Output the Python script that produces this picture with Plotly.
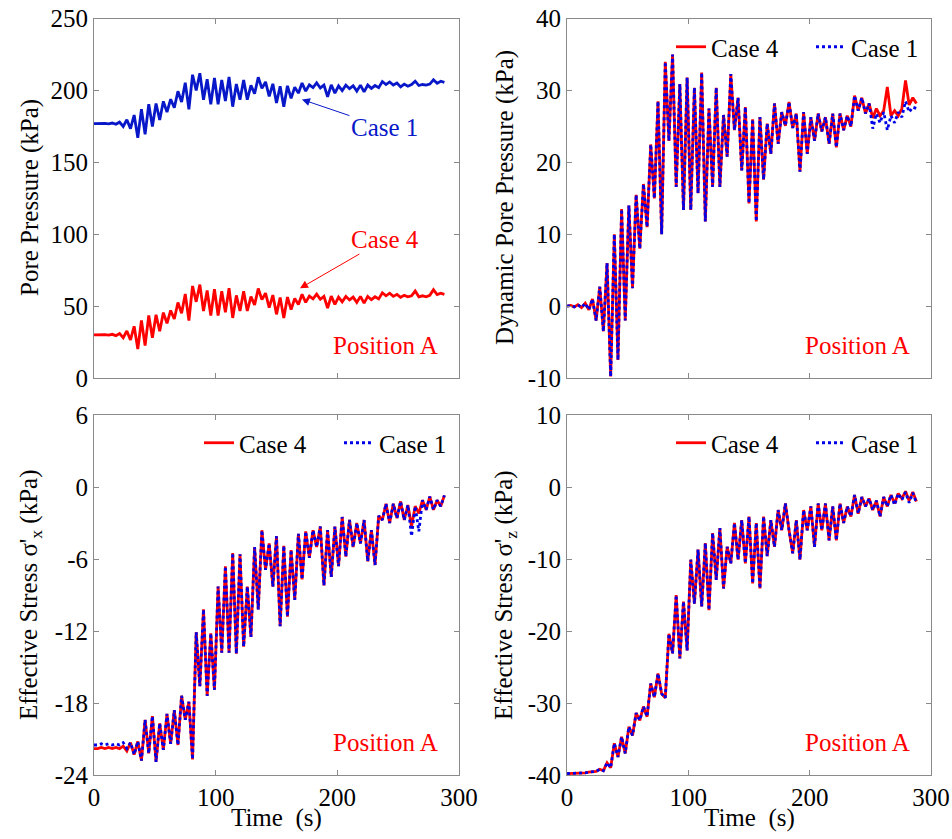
import plotly.graph_objects as go

# ---------------- data ----------------
time_s = [0, 3, 6, 9, 12, 15, 18, 21, 24, 27,
          30, 33, 36, 39, 42, 45, 48, 51, 54, 57,
          60, 63, 66, 69, 72, 75, 78, 81, 84, 87,
          90, 93, 96, 99, 102, 105, 108, 111, 114, 117,
          120, 123, 126, 129, 132, 135, 138, 141, 144, 147,
          150, 153, 156, 159, 162, 165, 168, 171, 174, 177,
          180, 183, 186, 189, 192, 195, 198, 201, 204, 207,
          210, 213, 216, 219, 222, 225, 228, 231, 234, 237,
          240, 243, 246, 249, 252, 255, 258, 261, 264, 267,
          270, 273, 276, 279, 282, 285, 288]

# Pore pressure (kPa), Position A
pore_case1 = [177.0, 177.1, 176.9, 177.2, 176.8, 177.4, 176.5, 178.0, 175.0, 179.7,
              173.5, 183.0, 167.2, 187.0, 169.5, 190.5, 175.0, 191.0, 179.5, 192.5,
              185.0, 194.0, 188.0, 199.5, 192.0, 205.5, 187.0, 211.0, 200.0, 212.0,
              193.6, 207.9, 190.4, 208.8, 190.4, 207.4, 192.7, 209.5, 188.8, 204.5,
              193.6, 207.4, 193.6, 203.6, 197.8, 209.3, 201.5, 206.0, 195.9, 204.7,
              191.3, 203.0, 188.8, 203.3, 194.6, 202.4, 198.2, 205.2, 199.6, 204.0,
              202.1, 205.4, 201.8, 203.8, 195.7, 204.0, 198.2, 203.3, 200.0, 203.8,
              201.3, 203.3, 199.6, 203.8, 199.1, 203.8, 201.5, 203.5, 202.0, 206.3,
              204.2, 206.0, 203.8, 205.2, 202.5, 204.5, 203.0, 204.2, 206.5, 203.5,
              204.2, 203.8, 204.5, 207.5, 205.0, 206.5, 205.7]
pore_case4 = [30.0, 30.1, 29.9, 30.2, 29.8, 30.4, 29.5, 31.0, 28.0, 32.7,
              26.5, 36.0, 20.2, 40.0, 22.5, 43.5, 28.0, 44.0, 32.5, 45.5,
              38.0, 47.0, 41.0, 52.5, 45.0, 58.5, 40.0, 64.0, 53.0, 65.0,
              46.6, 60.9, 43.4, 61.8, 43.4, 60.4, 45.7, 62.5, 41.8, 57.5,
              46.6, 60.4, 46.6, 56.6, 50.8, 62.3, 54.5, 59.0, 48.9, 57.7,
              44.3, 56.0, 41.8, 56.3, 47.6, 55.4, 51.2, 58.2, 52.6, 57.0,
              55.1, 58.4, 54.8, 56.8, 48.7, 57.0, 51.2, 56.3, 53.0, 56.8,
              54.3, 56.3, 52.6, 56.8, 52.1, 56.8, 54.5, 56.5, 55.0, 59.3,
              57.2, 59.0, 56.8, 58.2, 56.2, 57.5, 56.5, 57.2, 60.5, 56.5,
              57.2, 56.5, 57.5, 61.4, 58.0, 59.0, 58.2]

# Dynamic pore pressure (kPa)
dyn_case4 = [0.0, 0.1, -0.1, 0.2, -0.2, 0.4, -0.5, 1.0, -2.0, 2.7,
             -3.5, 6.0, -9.8, 10.0, -7.5, 13.5, -2.0, 14.0, 2.5, 15.5,
             8.0, 17.0, 11.0, 22.5, 15.0, 28.5, 10.0, 34.0, 23.0, 35.0,
             16.6, 30.9, 13.4, 31.8, 13.4, 30.4, 15.7, 32.5, 11.8, 27.5,
             16.6, 30.4, 16.6, 26.6, 20.8, 32.3, 24.5, 29.0, 18.9, 27.7,
             14.3, 26.0, 11.8, 26.3, 17.6, 25.4, 21.2, 28.2, 22.6, 27.0,
             25.1, 28.4, 24.8, 26.8, 18.7, 27.0, 21.2, 26.3, 23.0, 26.8,
             24.3, 26.3, 22.6, 26.8, 22.1, 26.8, 24.5, 26.5, 25.0, 29.3,
             27.2, 29.0, 26.8, 28.2, 26.2, 27.5, 26.5, 27.2, 30.5, 26.5,
             27.2, 26.5, 27.5, 31.4, 28.0, 29.0, 28.2]
dyn_case1 = [0.0, 0.1, -0.1, 0.2, -0.2, 0.4, -0.5, 1.0, -2.0, 2.7,
             -3.5, 6.0, -9.8, 10.0, -7.5, 13.5, -2.0, 14.0, 2.5, 15.5,
             8.0, 17.0, 11.0, 22.5, 15.0, 28.5, 10.0, 34.0, 23.0, 35.0,
             16.6, 30.9, 13.4, 31.8, 13.4, 30.4, 15.7, 32.5, 11.8, 27.5,
             16.6, 30.4, 16.6, 26.6, 20.8, 32.3, 24.5, 29.0, 18.9, 27.7,
             14.3, 26.0, 11.8, 26.3, 17.6, 25.4, 21.2, 28.2, 22.6, 27.0,
             25.1, 28.4, 24.8, 26.8, 18.7, 27.0, 21.2, 26.3, 23.0, 26.8,
             24.3, 26.3, 22.6, 26.8, 22.1, 26.8, 24.5, 26.5, 25.0, 29.3,
             27.2, 29.0, 26.8, 28.2, 24.7, 26.8, 25.5, 27.0, 24.5, 26.5,
             25.5, 27.0, 26.3, 28.5, 27.0, 27.7, 27.5]

# Effective stress sigma'_x (kPa)
sx_case4 = [-21.8, -21.8, -21.7, -21.8, -21.7, -21.8, -21.7, -21.8, -21.6, -22.0,
            -21.3, -22.3, -21.2, -22.8, -19.4, -22.2, -19.1, -22.9, -19.7, -21.9,
            -18.9, -21.4, -18.6, -21.5, -17.4, -19.4, -17.9, -22.7, -12.1, -16.6,
            -10.2, -17.4, -12.2, -16.9, -8.3, -13.8, -6.6, -13.8, -5.5, -13.9,
            -5.6, -13.3, -8.3, -12.5, -5.0, -10.2, -3.6, -6.9, -4.7, -8.3,
            -4.1, -11.6, -4.9, -10.8, -5.25, -9.4, -3.9, -7.7, -3.7, -5.9,
            -3.6, -5.0, -3.3, -8.2, -3.6, -7.5, -3.3, -6.6, -2.5, -5.8,
            -2.75, -5.0, -3.0, -4.7, -2.75, -6.2, -3.6, -6.5, -2.4, -2.75,
            -1.4, -3.0, -1.4, -2.6, -1.2, -2.75, -1.5, -3.3, -1.6, -2.2,
            -1.1, -1.9, -0.8, -1.9, -1.1, -1.6, -0.7]
sx_case1 = [-21.5, -21.5, -21.4, -21.5, -21.4, -21.5, -21.4, -21.5, -21.3, -21.8,
            -21.3, -22.3, -21.2, -22.8, -19.4, -22.2, -19.1, -22.9, -19.7, -21.9,
            -18.9, -21.4, -18.6, -21.5, -17.4, -19.4, -17.9, -22.7, -12.1, -16.6,
            -10.2, -17.4, -12.2, -16.9, -8.3, -13.8, -6.6, -13.8, -5.5, -13.9,
            -5.6, -13.3, -8.3, -12.5, -5.0, -10.2, -3.6, -6.9, -4.7, -8.3,
            -4.1, -11.6, -4.9, -10.8, -5.25, -9.4, -3.9, -7.7, -3.7, -5.9,
            -3.6, -5.0, -3.3, -8.2, -3.6, -7.5, -3.3, -6.6, -2.5, -5.8,
            -2.75, -5.0, -3.0, -4.7, -2.75, -6.2, -3.6, -6.5, -2.4, -2.75,
            -1.4, -3.0, -1.4, -2.6, -1.2, -2.75, -1.5, -4.1, -1.6, -3.7,
            -1.1, -1.9, -0.8, -1.9, -1.1, -1.6, -0.7]

# Effective stress sigma'_z (kPa)
sz_case4 = [-39.8, -39.8, -39.7, -39.8, -39.7, -39.7, -39.6, -39.6, -39.5, -39.2,
            -39.4, -38.3, -39.0, -35.6, -37.5, -34.7, -37.0, -33.3, -34.5, -31.4,
            -32.4, -30.5, -31.9, -27.3, -29.2, -25.9, -28.7, -29.3, -20.4, -23.1,
            -15.0, -23.8, -15.9, -22.7, -10.1, -16.2, -8.7, -16.6, -7.8, -17.1,
            -6.4, -12.9, -5.7, -14.1, -8.3, -10.6, -5.0, -10.1, -4.6, -10.6,
            -4.1, -13.4, -5.0, -14.1, -4.1, -9.6, -4.6, -8.3, -3.2, -6.0,
            -2.3, -6.0, -9.2, -4.6, -10.1, -3.2, -6.0, -2.7, -8.3, -2.3,
            -6.0, -2.3, -7.4, -2.7, -7.4, -2.3, -5.0, -2.7, -4.1, -1.1,
            -3.7, -1.4, -2.7, -1.6, -3.2, -1.9, -4.1, -1.4, -2.7, -1.1,
            -2.3, -0.9, -1.6, -0.6, -1.9, -0.7, -2.0]
sz_case1 = [-39.8, -39.8, -39.7, -39.8, -39.7, -39.7, -39.6, -39.6, -39.5, -39.2,
            -39.4, -38.3, -39.0, -35.6, -37.5, -34.7, -37.0, -33.3, -34.5, -31.4,
            -32.4, -30.5, -31.9, -27.3, -29.2, -25.9, -28.7, -29.3, -20.4, -23.1,
            -15.0, -23.8, -15.9, -22.7, -10.1, -16.2, -8.7, -16.6, -7.8, -17.1,
            -6.4, -12.9, -5.7, -14.1, -8.3, -10.6, -5.0, -10.1, -4.6, -10.6,
            -4.1, -13.4, -5.0, -14.1, -4.1, -9.6, -4.6, -8.3, -3.2, -6.0,
            -2.3, -6.0, -9.2, -4.6, -10.1, -3.2, -6.0, -2.7, -8.3, -2.3,
            -6.0, -2.3, -7.4, -2.7, -7.4, -2.3, -5.0, -2.7, -4.1, -1.1,
            -3.7, -1.4, -2.7, -1.6, -3.2, -1.9, -4.1, -1.4, -2.7, -1.1,
            -2.5, -0.9, -1.8, -0.7, -2.2, -0.8, -2.2]

x_ticks = [0, 100, 200, 300]
x_ticktext = ["0", "100", "200", "300"]
pore_ticks = [0, 50, 100, 150, 200, 250]
pore_ticktext = ["0", "50", "100", "150", "200", "250"]
dyn_ticks = [-10, 0, 10, 20, 30, 40]
dyn_ticktext = ["-10", "0", "10", "20", "30", "40"]
sx_ticks = [-24, -18, -12, -6, 0, 6]
sx_ticktext = ["-24", "-18", "-12", "-6", "0", "6"]
sz_ticks = [-40, -30, -20, -10, 0, 10]
sz_ticktext = ["-40", "-30", "-20", "-10", "0", "10"]

# ---------------- figure ----------------
W, H = 952, 839
FONT = "Liberation Serif"
RED = "#ff0000"
BLUE_TL = "#0818c8"
BLUE = "#0000e8"
GREY = "#8a8a8a"


def px(x):
    return x / W


def py(y):
    return 1 - y / H


def f(size=25, color="black"):
    return dict(family=FONT, size=size, color=color)


fig = go.Figure()

# top-left
fig.add_trace(go.Scatter(x=time_s, y=pore_case1, mode="lines", name="Case 1",
                         line=dict(color=BLUE_TL, width=2.8), showlegend=False,
                         xaxis="x", yaxis="y"))
fig.add_trace(go.Scatter(x=time_s, y=pore_case4, mode="lines", name="Case 4",
                         line=dict(color=RED, width=2.8), showlegend=False,
                         xaxis="x", yaxis="y"))

panels = [("x2", "y2", dyn_case4, dyn_case1, "legend"),
          ("x3", "y3", sx_case4, sx_case1, "legend2"),
          ("x4", "y4", sz_case4, sz_case1, "legend3")]
for xa, ya, c4, c1, lg in panels:
    fig.add_trace(go.Scatter(x=time_s, y=c4, mode="lines", name="Case 4",
                             line=dict(color=RED, width=2.8),
                             xaxis=xa, yaxis=ya, legend=lg))
    fig.add_trace(go.Scatter(x=time_s, y=c1, mode="lines", name="Case 1",
                             line=dict(color=BLUE, width=2.8, dash="dot"),
                             xaxis=xa, yaxis=ya, legend=lg))

left_dom = [px(94), px(459)]
right_dom = [px(567), px(931)]
top_dom = [py(378), py(18.7)]
bot_dom = [py(775), py(415)]

axis_common = dict(showline=True, linecolor=GREY, linewidth=1, mirror="ticks",
                   ticks="inside", ticklen=5, tickcolor=GREY, tickwidth=1,
                   showgrid=False, zeroline=False, automargin=False,
                   tickfont=f())


def xax(dom, anchor, labels):
    return dict(axis_common, domain=dom, anchor=anchor, range=[0, 300],
                tickmode="array", tickvals=x_ticks, ticktext=x_ticktext,
                showticklabels=labels)


def yax(dom, anchor, rng, vals, txt):
    return dict(axis_common, domain=dom, anchor=anchor, range=rng,
                tickmode="array", tickvals=vals, ticktext=txt)


legend_common = dict(orientation="h", bgcolor="rgba(0,0,0,0)", font=f(),
                     xanchor="left", yanchor="middle", itemwidth=30,
                     entrywidth=95, entrywidthmode="pixels",
                     tracegroupgap=0)

annotations = []
# y-axis titles
for xc, yc, txt in [(30, 198, "Pore Pressure (kPa)"),
                    (505, 198, "Dynamic Pore Pressure (kPa)"),
                    (30, 595, "Effective Stress σ'<sub>x</sub> (kPa)"),
                    (505, 595, "Effective Stress σ'<sub>z</sub> (kPa)")]:
    annotations.append(dict(text=txt, x=px(xc), y=py(yc), xref="paper", yref="paper",
                            textangle=-90, showarrow=False, xanchor="center",
                            yanchor="middle", font=f()))
# x-axis titles
for xc in (276.5, 749):
    annotations.append(dict(text="Time  (s)", x=px(xc), y=py(818), xref="paper",
                            yref="paper", showarrow=False, xanchor="center",
                            yanchor="middle", font=f()))
# Position A labels
for xr, yc in [(440, 345), (912, 345), (440, 742), (912, 742)]:
    annotations.append(dict(text="Position A", x=px(xr), y=py(yc), xref="paper",
                            yref="paper", showarrow=False, xanchor="right",
                            yanchor="middle", font=f(color=RED)))
# Case arrows in top-left panel
annotations.append(dict(text="Case 1", x=170.9, y=193.8, xref="x", yref="y",
                        ax=238.7, ay=174.3, axref="x", ayref="y",
                        showarrow=True, arrowhead=2, arrowsize=1.6, arrowwidth=1,
                        arrowcolor=BLUE_TL, font=f(color=BLUE_TL)))
annotations.append(dict(text="Case 4", x=169.3, y=62.4, xref="x", yref="y",
                        ax=239.5, ay=96.7, axref="x", ayref="y",
                        showarrow=True, arrowhead=2, arrowsize=1.6, arrowwidth=1,
                        arrowcolor=RED, font=f(color=RED)))

fig.update_layout(
    width=W, height=H,
    margin=dict(l=0, r=0, t=0, b=0, autoexpand=False),
    paper_bgcolor="white", plot_bgcolor="white",
    font=f(),
    xaxis=xax(left_dom, "y", False),
    yaxis=yax(top_dom, "x", [0, 250], pore_ticks, pore_ticktext),
    xaxis2=xax(right_dom, "y2", False),
    yaxis2=yax(top_dom, "x2", [-10, 40], dyn_ticks, dyn_ticktext),
    xaxis3=xax(left_dom, "y3", True),
    yaxis3=yax(bot_dom, "x3", [-24, 6], sx_ticks, sx_ticktext),
    xaxis4=xax(right_dom, "y4", True),
    yaxis4=yax(bot_dom, "x4", [-40, 10], sz_ticks, sz_ticktext),
    legend=dict(legend_common, x=px(671), y=py(47)),
    legend2=dict(legend_common, x=px(199), y=py(443)),
    legend3=dict(legend_common, x=px(671), y=py(443)),
    annotations=annotations,
    showlegend=True,
)

fig.write_html("out.html")
